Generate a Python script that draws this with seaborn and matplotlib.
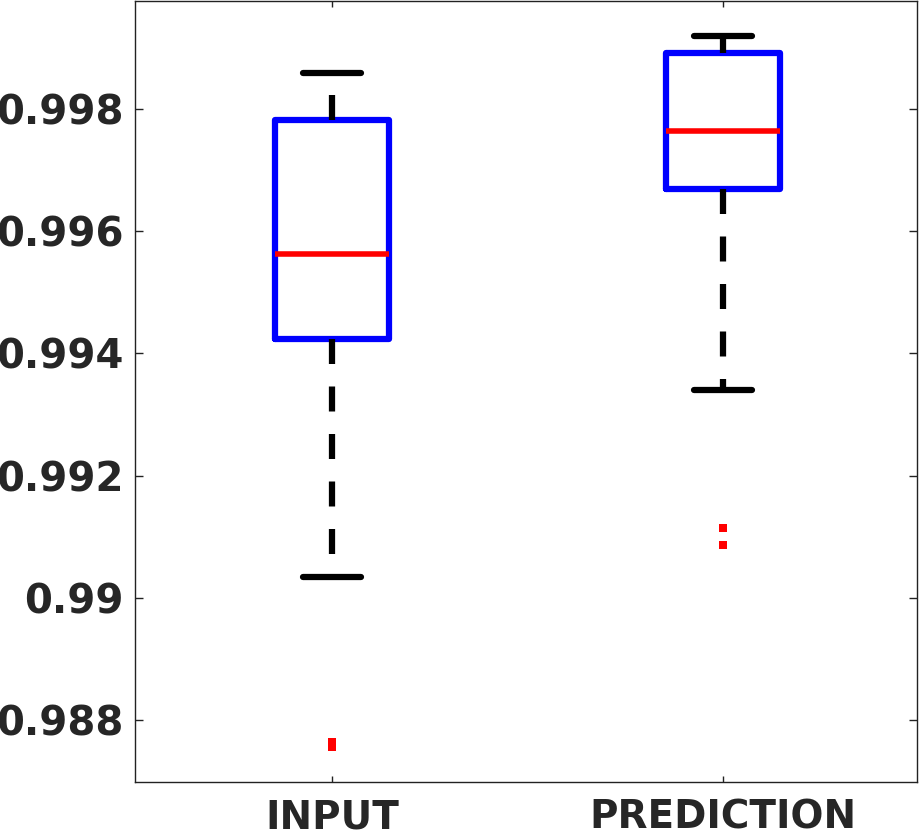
import pandas as pd
import seaborn as sns
import matplotlib.pyplot as plt

# values (sorted samples per group)
input_vals = [0.98756, 0.98764, 0.99035, 0.99424, 0.99490, 0.99530, 0.99563,
              0.99640, 0.99720, 0.99782, 0.99810, 0.99830, 0.998588]
pred_vals = [0.99086, 0.99114, 0.99340, 0.99668, 0.99700, 0.99740, 0.99764,
             0.99800, 0.99850, 0.99891, 0.99900, 0.99910, 0.99919]
groups = ['INPUT', 'PREDICTION']
y_ticks = [0.988, 0.99, 0.992, 0.994, 0.996, 0.998]
y_labels = ['0.988', '0.99', '0.992', '0.994', '0.996', '0.998']

data = pd.DataFrame({
    'group': [groups[0]] * len(input_vals) + [groups[1]] * len(pred_vals),
    'value': input_vals + pred_vals,
})

sns.set_theme(style="white")
plt.rcParams['font.family'] = ['DejaVu Sans']

fig = plt.figure(figsize=(9.19, 8.32), dpi=100)
ax = fig.add_axes([0.1469, 0.0601, 0.8509, 0.9387])

sns.boxplot(data=data, x='group', y='value', order=groups, width=0.29,
            fill=False, whis=1.5, ax=ax,
            boxprops=dict(color='blue', linewidth=4.5),
            medianprops=dict(color='red', linewidth=4.0),
            whiskerprops=dict(color='black', linewidth=4.5, linestyle=(0, (4.0, 3.6))),
            capprops=dict(color='black', linewidth=4.5),
            flierprops=dict(marker='s', markersize=5.5, markerfacecolor='red',
                            markeredgecolor='red', markeredgewidth=0),
            capwidths=0.15)

ax.set_xlim(-0.504, 1.496)
ax.set_ylim(0.98699, 0.99976)
ax.set_yticks(y_ticks)
ax.set_yticklabels(y_labels)
ax.set_xlabel('')
ax.set_ylabel('')

for s in ax.spines.values():
    s.set_color('#222222')
    s.set_linewidth(1.0)

ax.tick_params(axis='both', direction='in', width=1.0, color='#222222',
               labelcolor='#262626', top=True, right=True,
               left=True, bottom=True)
ax.tick_params(axis='y', length=6, pad=8, labelsize=29)
ax.tick_params(axis='x', length=4.5, pad=12, labelsize=28)
for lab in ax.get_xticklabels() + ax.get_yticklabels():
    lab.set_fontweight('bold')

fig.savefig('out.png', dpi=100)
